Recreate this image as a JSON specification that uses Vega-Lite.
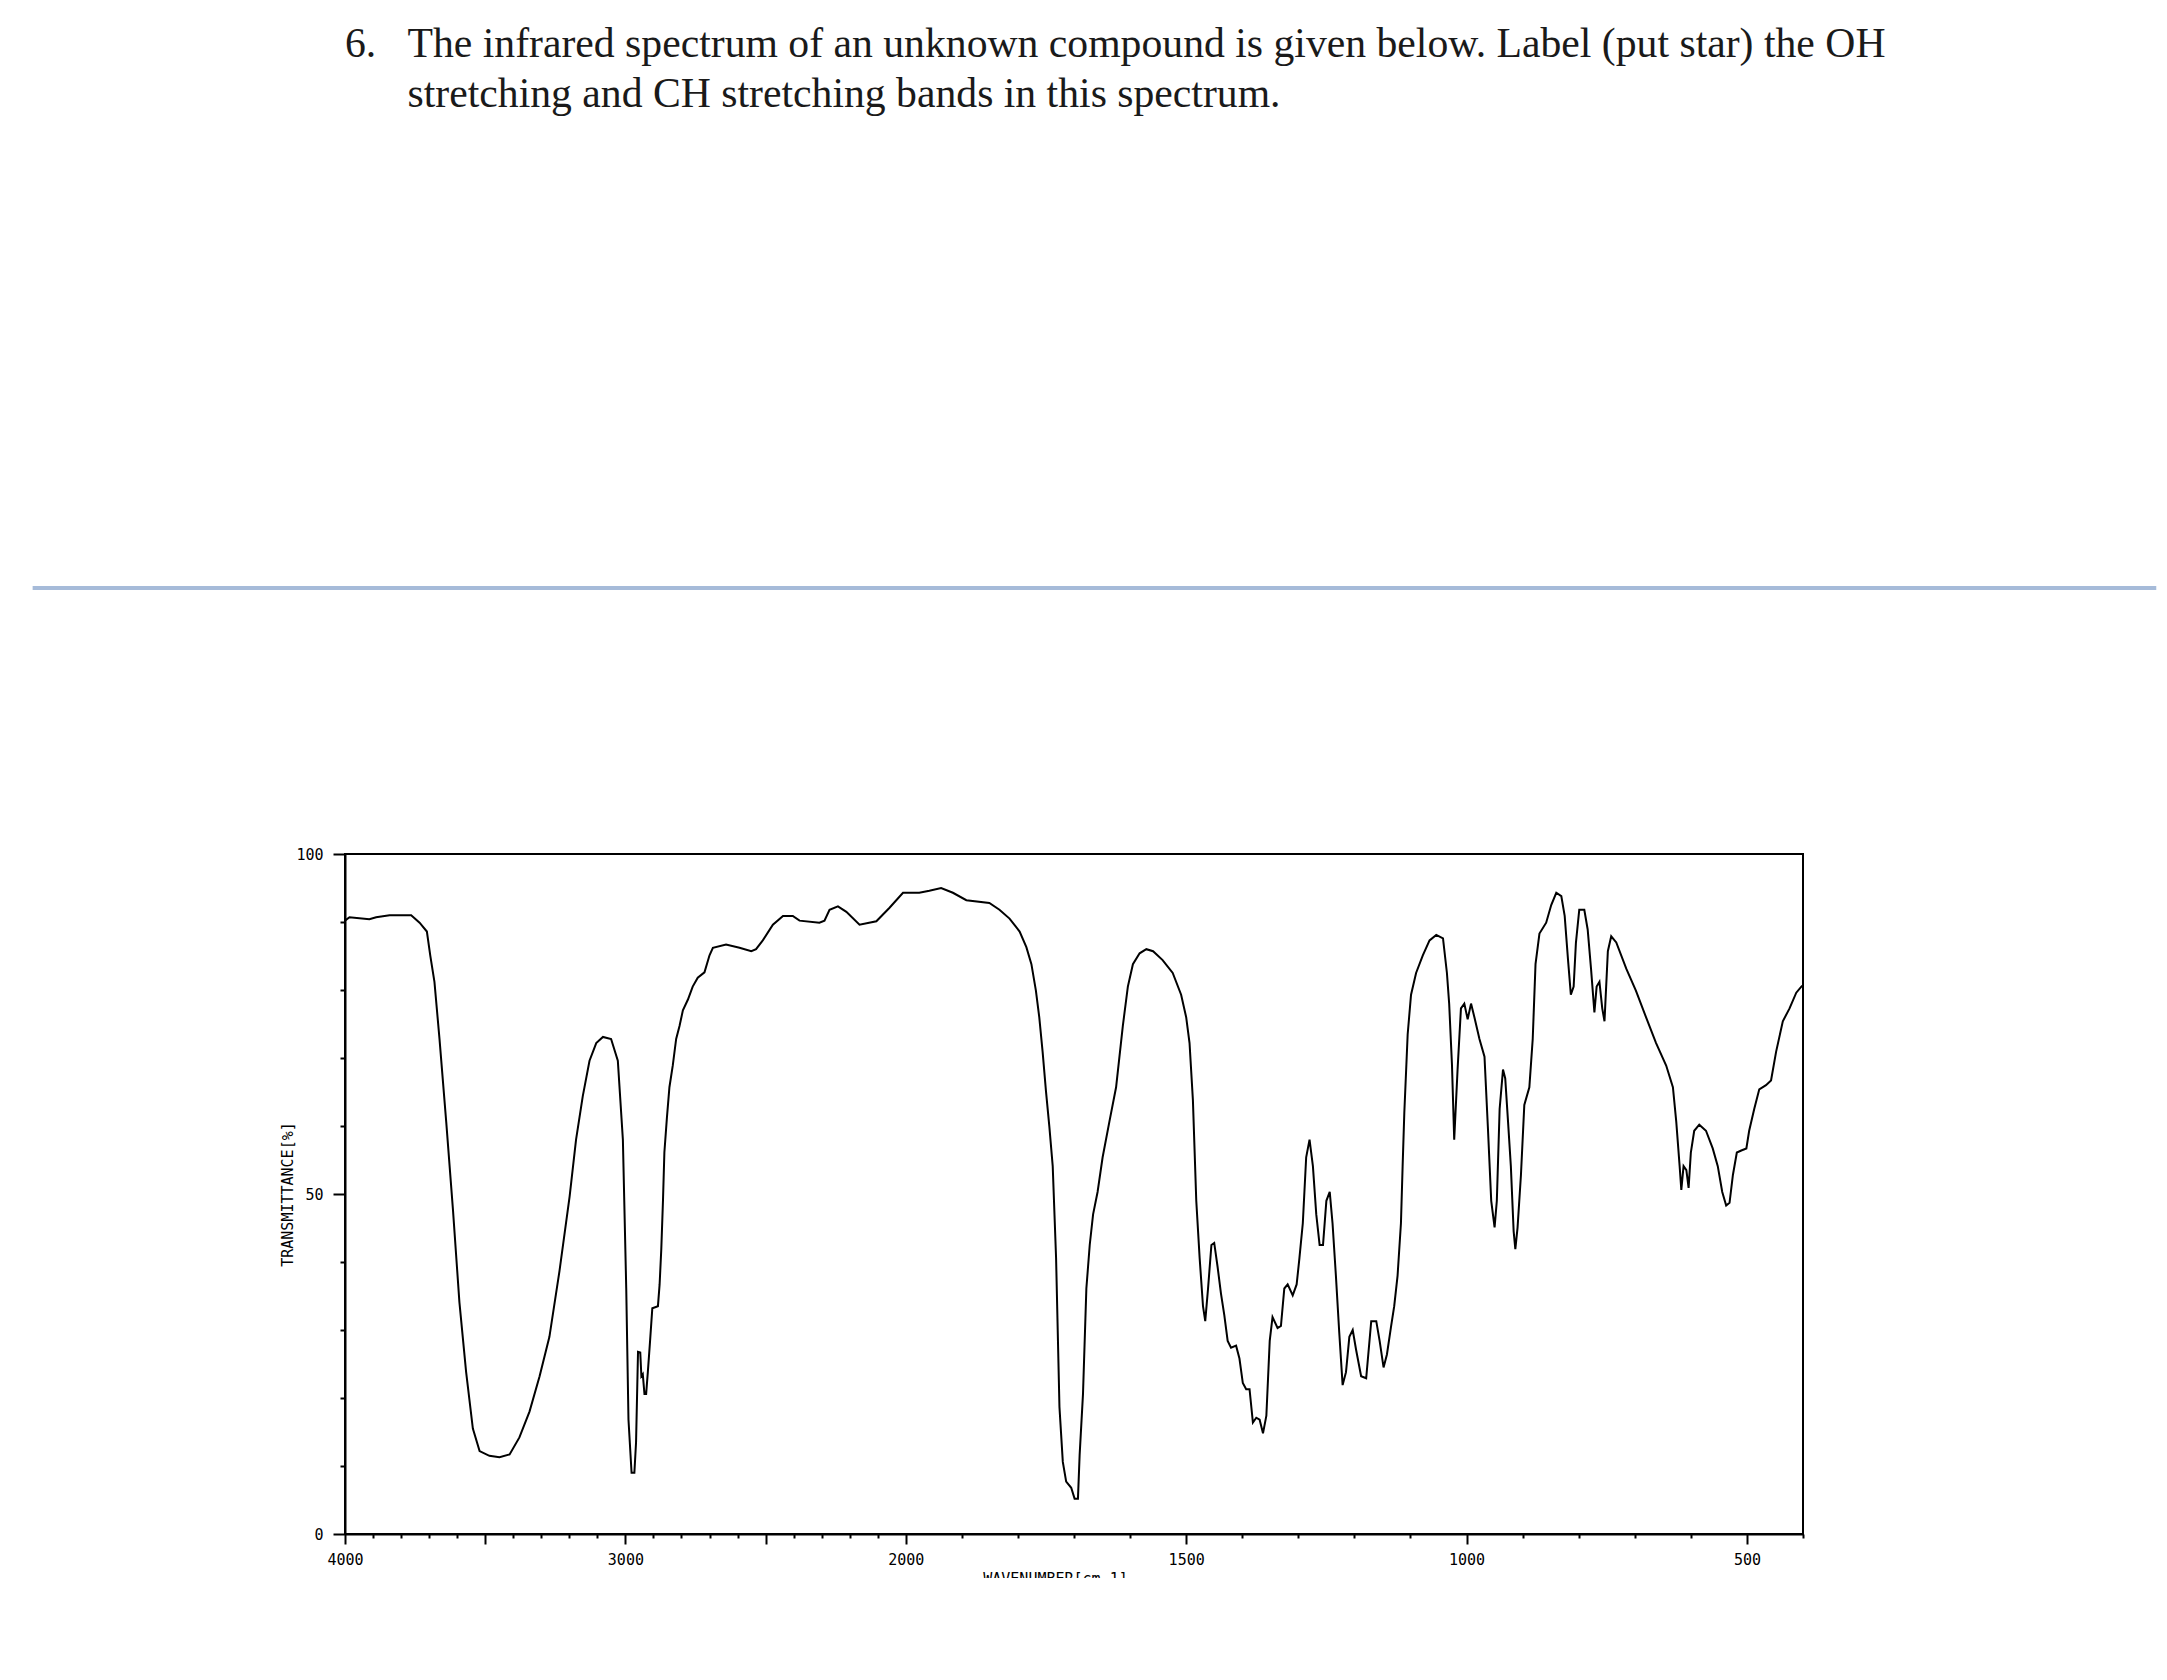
{
  "$schema": "https://vega.github.io/schema/vega-lite/v6.json",
  "autosize": {"type": "none"},
  "width": 1458,
  "height": 680,
  "padding": {"left": 345, "top": 854, "right": 364, "bottom": 44},
  "background": "white",
  "title": {
    "text": ["6.\u00a0\u00a0\u00a0The infrared spectrum of an unknown compound is given below. Label (put star) the OH", "\u200b\u00a0\u00a0\u00a0\u00a0\u00a0\u00a0stretching and CH stretching bands in this spectrum."],
    "anchor": "start",
    "frame": "group",
    "font": "Liberation Serif",
    "fontSize": 41.7,
    "fontWeight": "normal",
    "lineHeight": 50,
    "color": "#1a1a1a",
    "offset": 470
  },
  "config": {
    "view": {"stroke": "black", "strokeWidth": 2},
    "axis": {
      "domainColor": "black", "domainWidth": 2, "tickColor": "black", "tickWidth": 2,
      "labelFont": "DejaVu Sans Mono", "labelFontSize": 15, "labelColor": "black",
      "grid": false, "titleFont": "DejaVu Sans Mono", "titleFontWeight": "normal",
      "titleFontSize": 15, "titleColor": "black", "labelOverlap": false, "labelFlush": false
    }
  },
  "datasets": {
    "spectrum": [
      {"wn":4000,"t":90.2},{"wn":3984,"t":90.7},{"wn":3913,"t":90.4},{"wn":3889,"t":90.7},{"wn":3841,"t":91.0},{"wn":3764,"t":91.0},{"wn":3734,"t":89.9},{"wn":3708,"t":88.6},{"wn":3696,"t":85.1},{"wn":3681,"t":81.2},{"wn":3663,"t":72.8},{"wn":3639,"t":60.6},{"wn":3615,"t":47.7},{"wn":3592,"t":34.1},{"wn":3568,"t":23.8},{"wn":3544,"t":15.5},{"wn":3520,"t":12.2},{"wn":3485,"t":11.5},{"wn":3449,"t":11.3},{"wn":3413,"t":11.7},{"wn":3378,"t":14.2},{"wn":3342,"t":18.0},{"wn":3306,"t":23.2},{"wn":3271,"t":29.0},{"wn":3235,"t":38.7},{"wn":3199,"t":49.6},{"wn":3176,"t":58.0},{"wn":3152,"t":64.4},{"wn":3128,"t":69.6},{"wn":3104,"t":72.2},{"wn":3080,"t":73.1},{"wn":3051,"t":72.8},{"wn":3027,"t":69.6},{"wn":3009,"t":58.0},{"wn":2997,"t":36.1},{"wn":2989,"t":16.8},{"wn":2978,"t":9.0},{"wn":2968,"t":9.0},{"wn":2962,"t":13.5},{"wn":2955,"t":26.8},
      {"wn":2947,"t":26.7},{"wn":2943,"t":23.2},{"wn":2938,"t":23.5},{"wn":2932,"t":20.6},{"wn":2926,"t":20.6},{"wn":2920,"t":23.8},{"wn":2912,"t":28.4},{"wn":2904,"t":33.2},{"wn":2884,"t":33.5},{"wn":2878,"t":36.7},{"wn":2872,"t":41.9},{"wn":2866,"t":49.0},{"wn":2861,"t":56.1},{"wn":2852,"t":61.2},{"wn":2843,"t":65.7},{"wn":2831,"t":68.9},{"wn":2819,"t":72.8},{"wn":2807,"t":74.7},{"wn":2795,"t":77.0},{"wn":2777,"t":78.6},{"wn":2760,"t":80.5},{"wn":2742,"t":81.8},{"wn":2718,"t":82.6},{"wn":2700,"t":85.1},{"wn":2688,"t":86.2},{"wn":2641,"t":86.7},{"wn":2593,"t":86.2},{"wn":2551,"t":85.7},{"wn":2534,"t":86.0},{"wn":2510,"t":87.3},{"wn":2474,"t":89.6},{"wn":2438,"t":90.9},{"wn":2403,"t":90.9},{"wn":2379,"t":90.2},{"wn":2308,"t":89.9},{"wn":2290,"t":90.2},{"wn":2272,"t":91.8},{"wn":2242,"t":92.3},{"wn":2212,"t":91.5},{"wn":2165,"t":89.6},{"wn":2105,"t":90.1},{"wn":2058,"t":92.1},{"wn":2010,"t":94.3},
      {"wn":1976,"t":94.3},{"wn":1958,"t":94.6},{"wn":1937,"t":95.0},{"wn":1916,"t":94.3},{"wn":1892,"t":93.2},{"wn":1851,"t":92.8},{"wn":1833,"t":91.8},{"wn":1815,"t":90.5},{"wn":1797,"t":88.6},{"wn":1785,"t":86.3},{"wn":1776,"t":83.8},{"wn":1768,"t":79.9},{"wn":1762,"t":76.0},{"wn":1756,"t":70.9},{"wn":1750,"t":65.1},{"wn":1744,"t":59.9},{"wn":1738,"t":54.1},{"wn":1732,"t":40.6},{"wn":1726,"t":18.7},{"wn":1720,"t":10.6},{"wn":1714,"t":7.7},{"wn":1705,"t":6.8},{"wn":1699,"t":5.2},{"wn":1693,"t":5.2},{"wn":1690,"t":11.6},{"wn":1684,"t":20.6},{"wn":1678,"t":36.1},{"wn":1672,"t":42.5},{"wn":1666,"t":47.0},{"wn":1658,"t":50.3},{"wn":1649,"t":55.4},{"wn":1637,"t":60.6},{"wn":1625,"t":65.7},{"wn":1613,"t":74.7},{"wn":1604,"t":80.5},{"wn":1595,"t":83.8},{"wn":1583,"t":85.4},{"wn":1571,"t":86.0},{"wn":1559,"t":85.7},{"wn":1542,"t":84.4},{"wn":1524,"t":82.5},{"wn":1509,"t":79.3},{"wn":1500,"t":76.0},{"wn":1494,"t":72.2},{"wn":1488,"t":63.8},{"wn":1482,"t":49.0},{"wn":1476,"t":40.6},{"wn":1470,"t":33.5},{"wn":1466,"t":31.3},{"wn":1461,"t":36.1},{"wn":1455,"t":42.5},
      {"wn":1450,"t":42.8},{"wn":1444,"t":39.3},{"wn":1438,"t":35.4},{"wn":1432,"t":32.2},{"wn":1426,"t":28.4},{"wn":1420,"t":27.4},{"wn":1411,"t":27.7},{"wn":1405,"t":25.8},{"wn":1399,"t":22.2},{"wn":1393,"t":21.3},{"wn":1387,"t":21.3},{"wn":1381,"t":16.4},{"wn":1375,"t":17.1},{"wn":1369,"t":16.8},{"wn":1363,"t":14.8},{"wn":1357,"t":17.4},{"wn":1351,"t":28.4},{"wn":1346,"t":31.9},{"wn":1337,"t":30.3},{"wn":1331,"t":30.6},{"wn":1325,"t":36.1},{"wn":1319,"t":36.7},{"wn":1310,"t":35.1},{"wn":1303,"t":36.7},{"wn":1298,"t":40.6},{"wn":1292,"t":45.7},{"wn":1286,"t":55.4},{"wn":1280,"t":58.0},{"wn":1274,"t":54.1},{"wn":1268,"t":47.0},{"wn":1262,"t":42.5},{"wn":1256,"t":42.5},{"wn":1250,"t":49.0},{"wn":1244,"t":50.3},{"wn":1239,"t":45.7},{"wn":1233,"t":38.0},{"wn":1227,"t":29.6},{"wn":1221,"t":21.9},{"wn":1215,"t":23.8},{"wn":1209,"t":29.0},{"wn":1203,"t":30.0},{"wn":1197,"t":27.1},{"wn":1188,"t":23.2},{"wn":1179,"t":22.9},{"wn":1170,"t":31.3},{"wn":1161,"t":31.3},{"wn":1155,"t":28.4},{"wn":1148,"t":24.5},{"wn":1142,"t":26.4},{"wn":1135,"t":30.3},{"wn":1129,"t":33.5},{"wn":1123,"t":38.0},{"wn":1117,"t":45.7},{"wn":1114,"t":54.1},{"wn":1111,"t":61.9},{"wn":1105,"t":73.5},{"wn":1099,"t":79.3},{"wn":1090,"t":82.5},{"wn":1078,"t":85.1},{"wn":1066,"t":87.3},{"wn":1054,"t":88.1},{"wn":1042,"t":87.6},{"wn":1035,"t":82.5},{"wn":1031,"t":78.0},{"wn":1026,"t":69.0},{"wn":1022,"t":58.0},{"wn":1016,"t":68.3},{"wn":1010,"t":77.3},{"wn":1004,"t":78.0},{"wn":998,"t":75.7},{"wn":992,"t":78.0},{"wn":986,"t":76.0},{"wn":977,"t":72.8},{"wn":968,"t":70.2},{"wn":962,"t":59.9},{"wn":956,"t":49.0},{"wn":950,"t":45.1},{"wn":946,"t":49.0},{"wn":941,"t":62.5},
      {"wn":935,"t":68.3},{"wn":931,"t":67.0},{"wn":926,"t":60.6},{"wn":921,"t":54.1},{"wn":916,"t":44.5},{"wn":913,"t":41.9},{"wn":909,"t":45.1},{"wn":903,"t":52.8},{"wn":897,"t":63.1},{"wn":888,"t":65.7},{"wn":882,"t":72.8},{"wn":877,"t":83.8},{"wn":870,"t":88.3},{"wn":858,"t":89.9},{"wn":849,"t":92.5},{"wn":840,"t":94.3},{"wn":831,"t":93.8},{"wn":825,"t":90.9},{"wn":819,"t":84.4},{"wn":814,"t":79.3},{"wn":809,"t":80.5},{"wn":805,"t":86.9},{"wn":799,"t":91.8},{"wn":790,"t":91.8},{"wn":784,"t":88.9},{"wn":778,"t":83.1},{"wn":772,"t":76.7},{"wn":768,"t":80.5},{"wn":763,"t":81.2},{"wn":758,"t":77.3},{"wn":754,"t":75.4},{"wn":748,"t":85.7},{"wn":742,"t":87.9},{"wn":733,"t":87.0},{"wn":715,"t":83.1},{"wn":698,"t":79.9},{"wn":680,"t":76.0},{"wn":662,"t":72.2},{"wn":644,"t":68.9},{"wn":632,"t":65.7},{"wn":626,"t":60.6},{"wn":620,"t":54.1},{"wn":617,"t":50.6},{"wn":613,"t":54.1},{"wn":608,"t":53.5},{"wn":604,"t":50.9},{"wn":600,"t":56.1},{"wn":594,"t":59.3},{"wn":585,"t":60.2},{"wn":573,"t":59.3},{"wn":561,"t":56.7},{"wn":552,"t":54.1},{"wn":544,"t":50.3},{"wn":537,"t":48.3},{"wn":531,"t":48.7},{"wn":525,"t":52.8},{"wn":518,"t":56.1},{"wn":510,"t":56.4},{"wn":501,"t":56.7},{"wn":496,"t":59.3},{"wn":487,"t":62.5},{"wn":478,"t":65.4},{"wn":466,"t":66.0},{"wn":457,"t":66.7},{"wn":448,"t":70.9},{"wn":436,"t":75.4},{"wn":424,"t":77.3},{"wn":412,"t":79.6},{"wn":403,"t":80.5},{"wn":400,"t":80.7}
    ]
  },
  "layer": [
    {
      "data": {"name": "spectrum"},
      "mark": {"type": "line", "color": "black", "strokeWidth": 2, "interpolate": "linear"},
      "encoding": {
        "x": {
          "field": "wn", "type": "quantitative",
          "scale": {"domain": [4000, 2000, 400], "range": [0, 560.8, 1458], "nice": false, "zero": false},
          "axis": {
            "values": [4000,3900,3800,3700,3600,3500,3400,3300,3200,3100,3000,2900,2800,2700,2600,2500,2400,2300,2200,2100,2000,1900,1800,1700,1600,1500,1400,1300,1200,1100,1000,900,800,700,600,500,400],
            "format": "d",
            "tickSize": {"condition": {"test": "datum.value % 500 === 0", "value": 10}, "value": 4},
            "labelExpr": "(datum.value >= 2000 ? datum.value % 1000 === 0 : datum.value % 500 === 0) ? datum.label : ''",
            "labelPadding": 8,
            "title": "WAVENUMBER[cm-1]",
            "titleX": 710,
            "titleY": 37,
            "titleAlign": "center",
            "titleBaseline": "top"
          }
        },
        "y": {
          "field": "t", "type": "quantitative",
          "scale": {"domain": [0, 100], "nice": false},
          "axis": {
            "values": [0,10,20,30,40,50,60,70,80,90,100],
            "format": "d",
            "tickSize": {"condition": {"test": "datum.value % 50 === 0", "value": 12}, "value": 5},
            "labelExpr": "datum.value % 50 === 0 ? datum.label : ''",
            "labelPadding": 10,
            "title": "TRANSMITTANCE[%]",
            "titleX": -58,
            "titleY": 340,
            "titleAngle": -90,
            "titleAlign": "center",
            "titleBaseline": "middle"
          }
        }
      }
    },
    {
      "data": {"values": [{"k": 1}]},
      "mark": {"type": "rule", "color": "#a6bbd9", "strokeWidth": 4},
      "encoding": {
        "x": {"datum": 5114},
        "x2": {"datum": -230},
        "y": {"datum": 139.1}
      }
    }
  ]
}
